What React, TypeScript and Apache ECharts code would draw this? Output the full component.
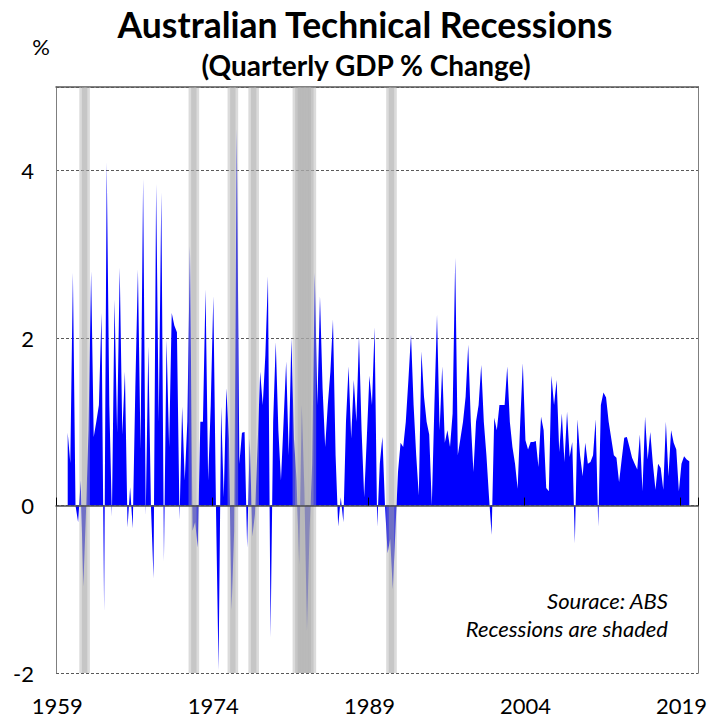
import React, { useEffect, useRef } from "react";
import * as echarts from "echarts";

const FONT = "Lato";

// Quarterly categories, 1959 Q1 .. 2020 Q3
const startYear = 1959;
const quarterCount = 247;
const quarters: string[] = [];
for (let i = 0; i < quarterCount; i++) {
  quarters.push(`${startYear + Math.floor(i / 4)} Q${(i % 4) + 1}`);
}

// Quarterly GDP % change
const gdpChange: (number | null)[] = [
  null, null, null, null, 0.87, 0.51, 2.78, 0.0, -0.2, 0.3,
  -0.97, -0.1, 0.9, 2.8, 0.82, 1.0, 1.2, 2.3, -1.27, 4.1,
  1.2, -0.13, 2.46, 0.87, 2.84, 0.85, 1.6, -0.26, 0.22, -0.27,
  1.4, 2.82, 0.67, 3.9, -0.12, 1.9, 0.0, -0.87, 3.84, 1.0,
  3.74, -0.67, 1.98, 0.7, 2.3, 2.15, 2.07, -0.17, 1.18, 0.3,
  1.0, 3.1, -0.3, -0.2, -0.5, 1.0, 1.0, 2.58, 0.3, 1.2,
  2.5, 0.0, -1.97, 1.18, 0.1, 1.4, 0.8, -1.25, -0.3, 4.5,
  0.5, 0.87, 0.88, -0.5, 0.8, -0.37, -0.1, 0.7, 1.6, 1.2,
  1.8, 2.74, -1.57, 1.0, 1.95, 0.9, 0.3, 1.0, 1.72, 0.6,
  2.0, 0.8, 0.3, -0.7, 1.2, 0.2, -1.5, -0.3, 0.5, 2.78,
  1.2, 2.5, 1.4, 0.7, 1.2, 1.6, 2.22, 0.6, -0.25, 0.1,
  -0.2, 1.0, 1.66, 0.8, 1.5, 1.0, 2.02, 0.9, 0.1, 0.8,
  1.55, 1.2, 2.13, -0.25, 0.5, 0.82, 0.0, -0.57, -0.4, -1.0,
  -0.3, 0.4, 0.75, 0.7, 1.0, 1.5, 2.04, 1.2, 0.6, 0.12,
  1.84, 1.3, 1.0, 0.85, 0.0, 1.2, 2.28, 0.9, 1.66, 0.75,
  0.9, 0.7, 1.1, 2.96, 0.6, 0.8, 1.0, 1.3, 1.92, 1.0,
  0.4, 1.0, 1.2, 1.68, 1.0, 0.6, 0.1, -0.35, 1.05, 0.9,
  1.2, 1.2, 1.2, 1.66, 1.0, 0.7, 0.5, 0.2, 1.0, 1.7,
  0.78, 0.67, 0.76, 0.76, 0.77, 0.46, 1.06, 0.9, 0.21, 0.17,
  1.55, 1.2, 1.5, 0.64, 1.1, 0.52, 1.12, 0.58, 0.76, -0.45,
  1.03, 0.6, 0.35, 0.75, 0.5, 0.52, 0.6, 1.03, -0.25, 1.2,
  1.35, 1.29, 1.0, 0.8, 0.6, 0.57, 0.28, 0.55, 0.81, 0.82,
  0.7, 0.57, 0.5, 0.43, 0.85, 0.17, 1.06, 0.55, 0.88, 0.5,
  0.19, 0.5, 0.45, 0.19, 1.0, 0.35, 0.9, 0.75, 0.67, 0.17,
  0.5, 0.59, 0.55, 0.53, null, null, null,
];

// Technical recession quarters (shaded)
const recessionQuarters: string[] = [
  "1961 Q3", "1961 Q4",
  "1972 Q1", "1972 Q2",
  "1975 Q4", "1976 Q1",
  "1977 Q4", "1978 Q1",
  "1982 Q1", "1982 Q2", "1982 Q3", "1982 Q4", "1983 Q1", "1983 Q2", "1983 Q3",
  "1991 Q1", "1991 Q2",
];

const yMin = -2;
const yMax = 5;
const yInterval = 2;

export default function App() {
  const ref = useRef<HTMLDivElement>(null);

  useEffect(() => {
    document.body.style.margin = "0";
    if (!ref.current) return;
    const chart = echarts.init(ref.current, undefined, { renderer: "svg" });

    const recUpper = quarters.map((q) => (recessionQuarters.includes(q) ? yMax : "-"));
    const recLower = quarters.map((q) => (recessionQuarters.includes(q) ? yMin : "-"));
    const bandColor = "rgba(170,170,170,0.42)";

    const option: any = {
      animation: false,
      backgroundColor: "#ffffff",
      textStyle: { fontFamily: FONT },
      grid: { left: 56, top: 87, width: 643, height: 586, containLabel: false },
      xAxis: [
        {
          type: "category",
          data: quarters,
          boundaryGap: true,
          position: "bottom",
          axisLine: { show: false, onZero: false },
          axisTick: { show: false },
          axisLabel: {
            interval: 59,
            formatter: (v: string) => v.slice(0, 4),
            fontSize: 22,
            color: "#000",
            fontFamily: FONT,
            margin: 21,
          },
          splitLine: { show: false },
        },
        {
          type: "category",
          data: quarters,
          boundaryGap: true,
          position: "bottom",
          z: 5,
          axisLine: {
            show: true,
            onZero: true,
            onZeroAxisIndex: 0,
            lineStyle: { color: "#4d4d4d", width: 1.5 },
          },
          axisTick: { show: true, inside: true, length: 8, interval: 59, lineStyle: { color: "#000", width: 1 } },
          axisLabel: { show: false },
          splitLine: { show: false },
        },
        {
          type: "category",
          data: quarters,
          boundaryGap: true,
          position: "top",
          axisLine: { show: true, onZero: false, lineStyle: { color: "#595959", width: 1.5 } },
          axisTick: { show: false },
          axisLabel: { show: false },
          splitLine: { show: false },
        },
      ],
      yAxis: [
        {
          type: "value",
          min: yMin,
          max: yMax,
          interval: yInterval,
          axisLine: { show: true, lineStyle: { color: "#7f7f7f", width: 1 } },
          axisTick: { show: false },
          axisLabel: {
            fontSize: 22,
            color: "#000",
            fontFamily: FONT,
            margin: 22,
            showMaxLabel: false,
          },
          splitLine: { show: true, lineStyle: { type: [3, 2], color: "#595959", width: 1 } },
        },
        {
          type: "value",
          min: yMin,
          max: yMax,
          interval: yInterval,
          position: "right",
          axisLine: { show: true, lineStyle: { color: "#7f7f7f", width: 1 } },
          axisTick: { show: false },
          axisLabel: { show: false },
          splitLine: { show: false },
        },
      ],
      series: [
        {
          name: "GDP",
          type: "line",
          data: gdpChange,
          xAxisIndex: 0,
          yAxisIndex: 0,
          symbol: "none",
          showSymbol: false,
          lineStyle: { width: 0, color: "#0000ff" },
          areaStyle: { color: "#0000ff", opacity: 1 },
          z: 2,
        },
        {
          name: "RecUp",
          type: "bar",
          data: recUpper,
          stack: "rec",
          barWidth: 8,
          xAxisIndex: 0,
          yAxisIndex: 0,
          itemStyle: { color: bandColor },
          z: 3,
        },
        {
          name: "RecDown",
          type: "bar",
          data: recLower,
          stack: "rec",
          barWidth: 8,
          xAxisIndex: 0,
          yAxisIndex: 0,
          itemStyle: { color: bandColor },
          z: 3,
        },
      ],
      graphic: [
        {
          type: "text",
          x: 365,
          y: 24,
          style: {
            text: "Australian Technical Recessions",
            fontFamily: FONT,
            fontWeight: "bold",
            fontSize: 35.5,
            fill: "#000",
            align: "center",
            verticalAlign: "middle",
          },
        },
        {
          type: "text",
          x: 366,
          y: 65,
          style: {
            text: "(Quarterly GDP % Change)",
            fontFamily: FONT,
            fontWeight: "bold",
            fontSize: 28,
            fill: "#000",
            align: "center",
            verticalAlign: "middle",
          },
        },
        {
          type: "text",
          x: 41,
          y: 46,
          style: {
            text: "%",
            fontFamily: FONT,
            fontSize: 22,
            fill: "#000",
            align: "center",
            verticalAlign: "middle",
          },
        },
        {
          type: "text",
          x: 668,
          y: 600,
          style: {
            text: "Sourace: ABS",
            fontFamily: FONT,
            fontStyle: "italic",
            fontSize: 22,
            fill: "#000",
            align: "right",
            verticalAlign: "middle",
          },
        },
        {
          type: "text",
          x: 668,
          y: 628,
          style: {
            text: "Recessions are shaded",
            fontFamily: FONT,
            fontStyle: "italic",
            fontSize: 22,
            fill: "#000",
            align: "right",
            verticalAlign: "middle",
          },
        },
      ],
    };

    chart.setOption(option);
    return () => chart.dispose();
  }, []);

  return <div ref={ref} style={{ width: 710, height: 720 }} />;
}
